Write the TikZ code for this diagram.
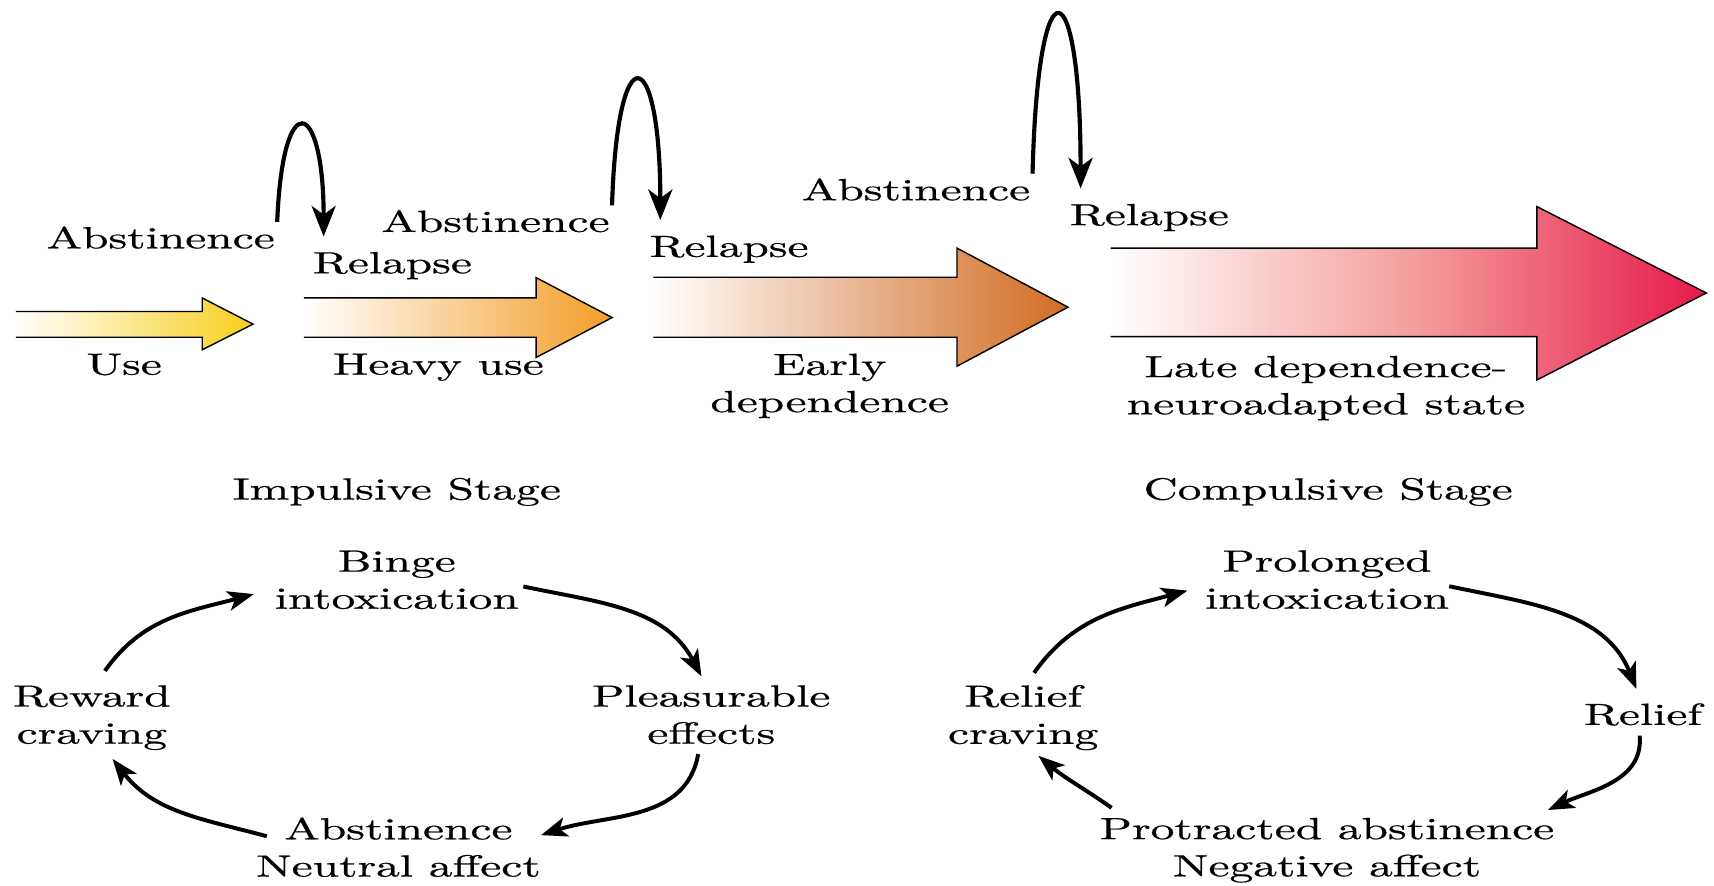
\documentclass[tikz,border=0pt]{standalone}
\usepackage{fontspec}
\setmainfont{lmroman10-regular.otf}[FakeStretch=1.55, FakeBold=0.6]
\usetikzlibrary{arrows.meta}

\definecolor{useyellow}{RGB}{248,206,30}
\definecolor{heavyorange}{RGB}{243,158,40}
\definecolor{earlyorange}{RGB}{210,108,35}
\definecolor{latered}{RGB}{230,25,75}
\definecolor{latesalmon}{RGB}{244,160,158}

\tikzstyle{txt}=[font=\fontsize{28}{34}\selectfont, align=center, inner sep=0pt]
\tikzstyle{relapse}=[line width=3.8pt, -{Stealth[length=28pt,width=22pt,inset=8pt]}]
\tikzstyle{cycarrow}=[line width=3.6pt, ->]
\tikzstyle{stagearrow}=[draw=black, line width=1.3pt, line join=miter]

\begin{document}
\begin{tikzpicture}[x=1pt, y=1pt, >={Stealth[length=24pt,width=18pt,inset=6pt]}]
		\useasboundingbox (0,0) rectangle (1568,-810);

		\path [stagearrow, left color=white, right color=useyellow]
			(14.6,-285) -- (185,-285) -- (185,-272.6) -- (231.5,-296.5) -- (185,-320) -- (185,-308.5) -- (14.6,-308.5);
		\path [stagearrow, left color=white, right color=heavyorange]
			(278,-272.5) -- (490.5,-272.5) -- (490.5,-254) -- (560,-290.5) -- (490.5,-327) -- (490.5,-308.5) -- (278,-308.5);
		\path [stagearrow, left color=white, right color=earlyorange]
			(597.6,-253.6) -- (875.5,-253.6) -- (875.5,-227) -- (977,-281) -- (875.5,-335) -- (875.5,-308.5) -- (597.6,-308.5);
		\path [stagearrow, left color=white, right color=latered, middle color=latesalmon]
			(1016,-227) -- (1406,-227) -- (1406,-189) -- (1561,-268) -- (1406,-347.6) -- (1406,-308) -- (1016,-308);

		\node [txt] (abs1)       at (147,-217.3)    {Abstinence};
		\node [txt] (rel1)       at (359,-243)      {Relapse};
		\node [txt] (abs2)       at (453.3,-202.3)  {Abstinence};
		\node [txt] (rel2)       at (667,-228)      {Relapse};
		\node [txt] (abs3)       at (838,-173.3)    {Abstinence};
		\node [txt] (rel3)       at (1051.5,-199)   {Relapse};
		\node [txt] (use)        at (113.6,-333.5)  {Use};
		\node [txt] (heavy)      at (401,-336)      {Heavy use};
		\node [txt] (early)      at (759,-353)      {Early\\dependence};
		\node [txt] (late)       at (1213,-355)     {Late dependence-\\neuroadapted state};

		\node [txt] (impulsive)  at (363,-450)      {Impulsive Stage};
		\node [txt] (compulsive) at (1215,-450)     {Compulsive Stage};

		\node [txt] (binge)      at (363,-530.5)    {Binge\\intoxication};
		\node [txt] (pleas)      at (650.7,-653.8)  {Pleasurable\\effects};
		\node [txt] (neutral)    at (364.5,-775)    {Abstinence\\Neutral affect};
		\node [txt] (reward)     at (84,-656.5)     {Reward\\craving};

		\node [txt] (prolong)    at (1214,-530.3)   {Prolonged\\intoxication};
		\node [txt] (relief)     at (1503,-653.6)   {Relief};
		\node [txt] (negative)   at (1214,-777.8)   {Protracted abstinence\\Negative affect};
		\node [txt] (rcrave)     at (936,-656.5)    {Relief\\craving};

		\draw [relapse] ([shift={(2,4)}]abs1.north east) .. controls +(5,126) and +(0,126) .. ([shift={(10,14)}]rel1.north west);
		\draw [relapse] ([shift={(2,4)}]abs2.north east) .. controls +(5,161) and +(0,161) .. ([shift={(10,14)}]rel2.north west);
		\draw [relapse] ([shift={(2,4)}]abs3.north east) .. controls +(5,202) and +(0,202) .. ([shift={(10,14)}]rel3.north west);

		\draw [cycarrow] ([shift={(4,-6)}]binge.east)          to[out=-12, in=118]  ([shift={(-9,8)}]pleas.north);
		\draw [cycarrow] ([shift={(-12,-9)}]pleas.south)       to[out=-100, in=18]  ([shift={(0,11)}]neutral.east);
		\draw [cycarrow] ([shift={(10,10)}]neutral.west)       to[out=165, in=-52]  ([shift={(19,-8)}]reward.south);
		\draw [cycarrow] ([shift={(12,13)}]reward.north)       to[out=55, in=-165]  ([shift={(-19,-13)}]binge.west);

		\draw [cycarrow] ([shift={(0,-6)}]prolong.east)        to[out=-12, in=112]  ([shift={(-6,13)}]relief.north);
		\draw [cycarrow] ([shift={(-3,-9)}]relief.south)       to[out=-85, in=25]   ([shift={(-6,7)}]negative.north east);
		\draw [cycarrow] ([shift={(11,9)}]negative.north west) to[out=145, in=-40]  ([shift={(14,-5)}]rcrave.south);
		\draw [cycarrow] ([shift={(10,11)}]rcrave.north)       to[out=55, in=-165]  ([shift={(-16,-10)}]prolong.west);
\end{tikzpicture}
\end{document}
